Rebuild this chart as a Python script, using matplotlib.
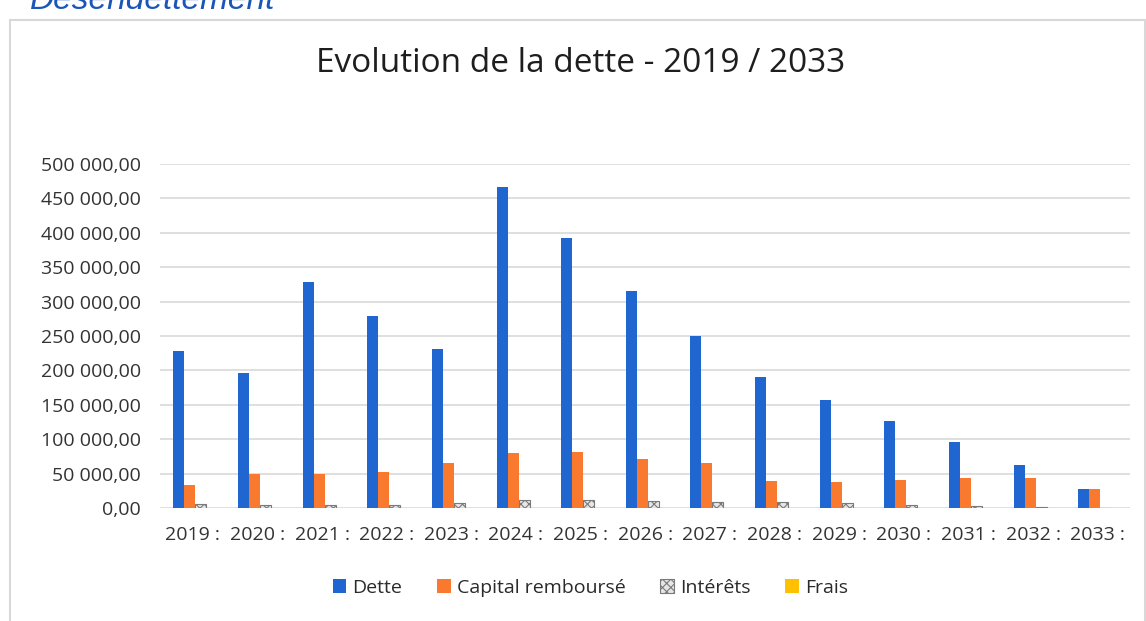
import matplotlib.pyplot as plt
import matplotlib.patches as mpatches
import numpy as np

plt.rcParams["font.family"] = ["Open Sans", "DejaVu Sans"]
plt.rcParams["hatch.linewidth"] = 0.8

years = ["2019", "2020", "2021", "2022", "2023", "2024", "2025", "2026",
         "2027", "2028", "2029", "2030", "2031", "2032", "2033"]
tick_labels = [y + " :" for y in years]

dette = [228000, 196000, 328000, 279000, 231000, 467000, 393000, 316000,
         250000, 190000, 157000, 127000, 96000, 63000, 28000]
capital = [33000, 49000, 49000, 52000, 66000, 80000, 81000, 71000,
           65000, 39000, 38000, 41000, 43000, 44000, 28000]
interets = [6000, 5000, 4000, 4000, 7000, 12000, 11000, 10000,
            9000, 8000, 7000, 5000, 3000, 1500, 500]
frais = [300, 300, 300, 300, 300, 300, 300, 300,
         300, 300, 300, 300, 300, 300, 300]

fig = plt.figure(figsize=(11.46, 6.21), dpi=100)
ax = fig.add_axes([0.14, 0.182, 0.846, 0.554])

x = np.arange(len(years))
w = 0.17
ax.bar(x - 1.5 * w + 0.04, dette, w, color="#1f66d1", label="Dette", zorder=3)
ax.bar(x - 0.5 * w + 0.04, capital, w, color="#f97a2e", label="Capital remboursé", zorder=3)
ax.bar(x + 0.5 * w + 0.04, interets, w, facecolor="#e6e6e6", edgecolor="#7a7a7a",
       hatch="xxxx", linewidth=0.8, label="Intérêts", zorder=3)
ax.bar(x + 1.5 * w + 0.04, frais, w, color="#ffc000", label="Frais", zorder=3)

ax.set_xlim(-0.5, len(years) - 0.5)
ax.set_ylim(0, 500000)
ax.set_yticks(np.arange(0, 500001, 50000))
ax.set_yticklabels([f"{v:,.2f}".replace(",", " ").replace(".", ",") for v in range(0, 500001, 50000)])
ax.set_xticks(x)
ax.set_xticklabels(tick_labels)
ax.tick_params(axis="both", length=0, labelsize=14, colors="#333333")
ax.tick_params(axis="x", pad=13)
ax.tick_params(axis="y", pad=14)
ax.grid(axis="y", color="#d9d9d9", linewidth=1.2, zorder=0)
for s in ax.spines.values():
    s.set_visible(False)

fig.suptitle("Evolution de la dette - 2019 / 2033", fontsize=24, color="#1e1e1e",
             x=0.507, y=0.898, va="center")

leg = fig.legend(loc="center", bbox_to_anchor=(0.515, 0.053), ncol=4, frameon=False,
                 fontsize=14, handlelength=0.7, handleheight=0.7, handletextpad=0.3,
                 columnspacing=1.8, labelcolor="#2a2a2a")

# frame of the pasted chart and the cut-off heading above it
fig.patches.append(mpatches.Rectangle((0.009, -0.01), 0.99, 0.978, transform=fig.transFigure,
                                      fill=False, edgecolor="#d8d8d8", linewidth=1.5))
fig.text(0.026, 0.985, "Désendettement", fontsize=24, style="italic", color="#1a55b8",
         family=["Liberation Sans", "DejaVu Sans"], va="baseline")

fig.savefig("out.png", dpi=100)
